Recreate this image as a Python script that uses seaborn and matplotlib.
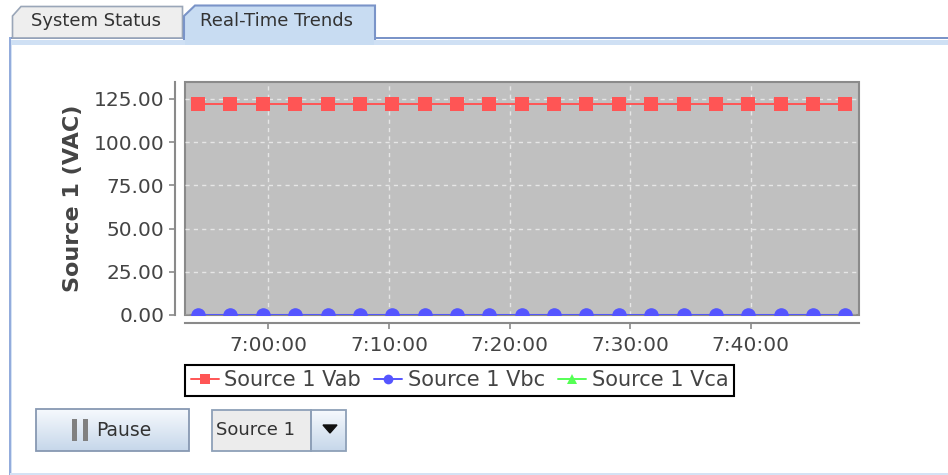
import numpy as np
import pandas as pd
import matplotlib
matplotlib.use("Agg")
import matplotlib.pyplot as plt
import matplotlib.dates as mdates
import seaborn as sns
from matplotlib.patches import Rectangle, Polygon
from matplotlib.lines import Line2D

# Sample times (every ~2m41s) and the three line voltages
times = ["6:54:10", "6:56:51", "6:59:32", "7:02:13", "7:04:54", "7:07:35", "7:10:16",
         "7:12:57", "7:15:38", "7:18:19", "7:21:00", "7:23:41", "7:26:22", "7:29:03",
         "7:31:44", "7:34:25", "7:37:06", "7:39:47", "7:42:28", "7:45:09", "7:47:50"]
vab = [122.0, 122.0, 122.0, 122.0, 122.0, 122.0, 122.0, 122.0, 122.0, 122.0, 122.0,
       122.0, 122.0, 122.0, 122.0, 122.0, 122.0, 122.0, 122.0, 122.0, 122.0]
vbc = [0.0, 0.0, 0.0, 0.0, 0.0, 0.0, 0.0, 0.0, 0.0, 0.0, 0.0,
       0.0, 0.0, 0.0, 0.0, 0.0, 0.0, 0.0, 0.0, 0.0, 0.0]
vca = [0.0, 0.0, 0.0, 0.0, 0.0, 0.0, 0.0, 0.0, 0.0, 0.0, 0.0,
       0.0, 0.0, 0.0, 0.0, 0.0, 0.0, 0.0, 0.0, 0.0, 0.0]
series_names = ["Source 1 Vab", "Source 1 Vbc", "Source 1 Vca"]
series_colors = ["#ff5555", "#5555ff", "#55ff55"]
series_markers = ["s", "o", "^"]
y_ticks = [0, 25, 50, 75, 100, 125]

sns.set_style("white")
plt.rcParams["font.family"] = ["DejaVu Sans"]

W, H = 948, 475
fig = plt.figure(figsize=(W / 100, H / 100), dpi=100)

# ---- window chrome (tabs, panel, buttons) in pixel coordinates ----
ui = fig.add_axes([0, 0, 1, 1])
ui.set_xlim(0, W)
ui.set_ylim(H, 0)
ui.axis("off")

# content panel border
ui.add_patch(Rectangle((10, 37), W - 10, 2, color="#7a94c8", lw=0))
ui.add_patch(Rectangle((10, 40), W - 10, 5, color="#cfe0f4", lw=0))
ui.add_patch(Rectangle((9.5, 37), 1.5, H - 37, color="#93acdc", lw=0))
ui.add_patch(Rectangle((11, 45), 1.2, H - 45, color="#d4e2f4", lw=0))
ui.add_patch(Rectangle((10, 472.5), W - 10, 2.5, color="#d4e2f4", lw=0))

# inactive tab
ui.add_patch(Polygon([(12.5, 38), (12.5, 16), (21, 6.5), (182.5, 6.5), (182.5, 38)],
                     closed=True, facecolor="#eeeeee", edgecolor="#9aa6b8", lw=1.2))
ui.text(96, 21, "System Status", fontsize=13, color="#333333", ha="center", va="center")

# active tab
ui.add_patch(Polygon([(184, 40), (184, 16), (195, 5.5), (375, 5.5), (375, 40)],
                     closed=False, facecolor="#c8dcf2", edgecolor="#7a94c8", lw=1.5))
ui.add_patch(Rectangle((185, 36), 189, 9, color="#c8dcf2", lw=0))
ui.text(277, 21, "Real-Time Trends", fontsize=13, color="#333333", ha="center", va="center")

grad = np.linspace(0, 1, 50).reshape(-1, 1)
btn_cmap = matplotlib.colors.LinearSegmentedColormap.from_list("btn", ["#f6f9fd", "#c6d7ea"])

# Pause button
ui.imshow(grad, cmap=btn_cmap, extent=(36, 189, 451, 409), aspect="auto", zorder=1)
ui.add_patch(Rectangle((36, 409), 153, 42, fill=False, edgecolor="#8798b2", lw=1.3, zorder=2))
ui.add_patch(Rectangle((72, 419), 5, 22, color="#808080", lw=0, zorder=2))
ui.add_patch(Rectangle((83, 419), 5, 22, color="#808080", lw=0, zorder=2))
ui.text(96, 430, "Pause", fontsize=13.5, color="#333333", ha="left", va="center", zorder=3)

# combo box
ui.add_patch(Rectangle((212, 410), 99, 41, facecolor="#ececec", edgecolor="#8ea0b8", lw=1.3, zorder=2))
ui.imshow(grad, cmap=btn_cmap, extent=(311, 346, 451, 410), aspect="auto", zorder=1)
ui.add_patch(Rectangle((311, 410), 35, 41, fill=False, edgecolor="#8ea0b8", lw=1.3, zorder=2))
ui.add_patch(Polygon([(323, 425), (337, 425), (330, 433)], closed=True, color="#111111", zorder=3))
ui.text(216, 430, "Source 1", fontsize=13, color="#333333", ha="left", va="center", zorder=3)
ui.set_xlim(0, W)
ui.set_ylim(H, 0)

# ---- chart ----
ax = fig.add_axes([185 / W, 1 - 315 / H, 674 / W, 233 / H])
ax.set_zorder(2)

df = pd.DataFrame({
    "time": pd.to_datetime(["2020-01-01 " + t for t in times]),
    "vab": vab, "vbc": vbc, "vca": vca,
})

line_kw = dict(linewidth=1.4, markeredgewidth=0, legend=False, ax=ax)
sns.lineplot(data=df, x="time", y="vab", color=series_colors[0], marker=series_markers[0],
             markersize=10, **line_kw)
sns.lineplot(data=df, x="time", y="vca", color=series_colors[2], marker=series_markers[2],
             markersize=10, **line_kw)
sns.lineplot(data=df, x="time", y="vbc", color=series_colors[1], marker=series_markers[1],
             markersize=10.5, **line_kw)

ax.set_facecolor("#c0c0c0")
ax.patch.set_edgecolor("#8a8a8a")
ax.patch.set_linewidth(1.5)

ax.set_xlim(pd.Timestamp("2020-01-01 6:53:05"), pd.Timestamp("2020-01-01 7:48:58"))
ax.set_ylim(0, 134.8)
ax.set_yticks(y_ticks)
ax.yaxis.set_major_formatter(matplotlib.ticker.FormatStrFormatter("%.2f"))
ax.xaxis.set_major_locator(mdates.MinuteLocator(byminute=range(0, 60, 10)))
ax.xaxis.set_major_formatter(mdates.DateFormatter("%-H:%M:%S"))

ax.grid(True, color="#e6e6e6", linestyle=(0, (3, 3)), linewidth=1)
for side in ["top", "right"]:
    ax.spines[side].set_visible(False)
ax.spines["left"].set_position(("outward", 7))
ax.spines["bottom"].set_position(("outward", 6))
for side in ["left", "bottom"]:
    ax.spines[side].set_color("#8a8a8a")
    ax.spines[side].set_linewidth(1.5)

ax.tick_params(axis="both", bottom=True, left=True, direction="out", length=4, width=1.2,
               colors="#8a8a8a", labelcolor="#444444", labelsize=14.5)
ax.tick_params(axis="y", pad=4)
ax.tick_params(axis="x", pad=5)

ax.set_xlabel("")
ax.set_ylabel("Source 1 (VAC)", fontsize=16, fontweight="bold", color="#444444")
ax.yaxis.set_label_coords(-0.151, 0.5)

handles = [Line2D([], [], color=c, marker=m, markersize=7, markeredgewidth=0, lw=1.4)
           for c, m in zip(series_colors, series_markers)]
leg = fig.legend(handles, series_names, loc="center",
                 bbox_to_anchor=(459.5 / W, 1 - 380.5 / H), ncol=3, frameon=True,
                 fancybox=False, edgecolor="black", framealpha=1, fontsize=15,
                 handlelength=1.35, handletextpad=0.25, columnspacing=0.65, borderpad=0.25,
                 borderaxespad=0)
leg.get_frame().set_linewidth(1.5)
for t in leg.get_texts():
    t.set_color("#444444")

fig.savefig("out.png", dpi=100)
